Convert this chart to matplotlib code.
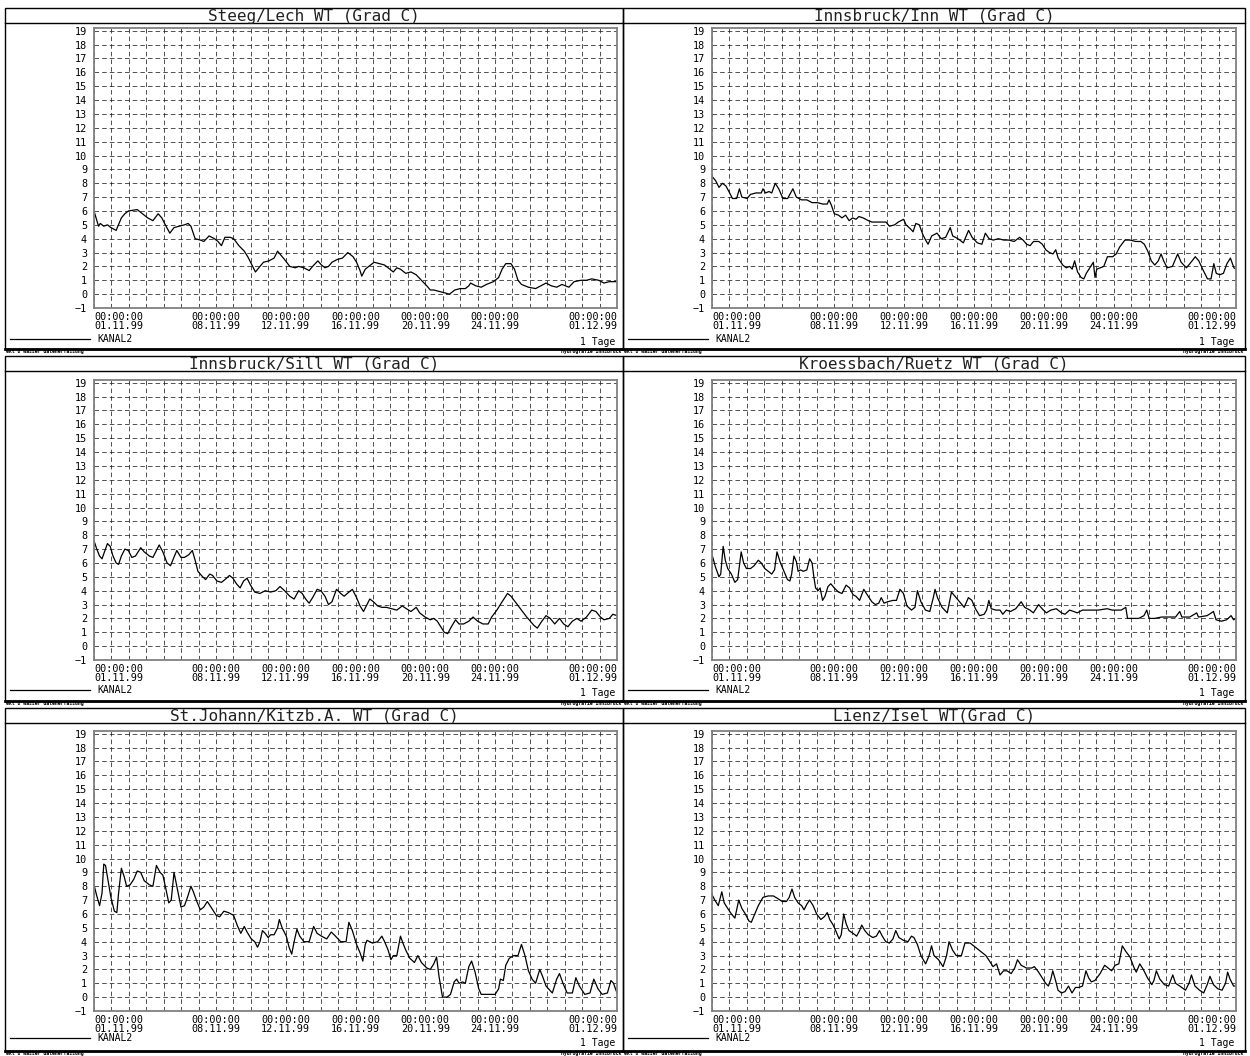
import matplotlib.pyplot as plt
from matplotlib.patches import Rectangle
from matplotlib.lines import Line2D

plt.rcParams['font.family'] = ['DejaVu Sans Mono']

# days since 01.11.99 00:00 and water temperature (Grad C)
steeg_days = [0, 0.26, 0.36, 0.56, 0.77, 0.97, 1.27, 1.57, 1.77, 1.97, 2.48, 2.78, 3.08, 3.38, 3.68,
              3.89, 4.09, 4.35, 4.59, 4.89, 5.19, 5.40, 5.56, 5.80, 6.10, 6.30, 6.60, 6.91, 7.11, 7.31,
              7.51, 7.81, 8.01, 8.31, 8.62, 8.82, 9.02, 9.26, 9.52, 9.72, 10.03, 10.33, 10.53, 10.73,
              10.93, 11.23, 11.54, 11.74, 12.04, 12.34, 12.54, 12.84, 13.05, 13.25, 13.45, 13.65, 13.95,
              14.25, 14.56, 14.86, 15.06, 15.26, 15.36, 15.56, 15.76, 16.07, 16.37, 16.67, 16.97, 17.17,
              17.37, 17.58, 17.88, 18.18, 18.48, 18.78, 19.09, 19.29, 19.49, 19.79, 20.09, 20.39, 20.70,
              21.00, 21.30, 21.50, 21.60, 21.90, 22.21, 22.51, 22.91, 23.21, 23.41, 23.62, 23.92, 24.12,
              24.32, 24.52, 24.92, 25.33, 25.63, 25.93, 26.23, 26.54, 26.84, 27.24, 27.54, 27.94, 28.25,
              28.55, 28.95, 29.25, 29.56, 30.0]
steeg_temp = [6.0, 4.9, 5.1, 4.9, 5.0, 4.8, 4.6, 5.5, 5.8, 6.0, 6.1, 5.8, 5.5, 5.3, 5.8,
              5.5, 5.0, 4.4, 4.8, 4.9, 5.0, 5.1, 4.9, 4.0, 3.9, 3.8, 4.2, 4.0, 3.8, 3.5,
              4.1, 4.1, 4.0, 3.5, 3.1, 2.7, 2.2, 1.6, 2.0, 2.3, 2.4, 2.6, 3.1, 2.8,
              2.5, 2.0, 1.9, 2.0, 1.9, 1.7, 2.0, 2.4, 2.1, 1.9, 2.0, 2.3, 2.5,
              2.6, 3.0, 2.7, 2.3, 1.7, 1.3, 1.8, 2.0, 2.3, 2.2, 2.1, 1.8, 1.6,
              1.9, 1.8, 1.5, 1.6, 1.4, 1.0, 0.6, 0.3, 0.3, 0.2, 0.1, 0.0, 0.3,
              0.4, 0.4, 0.6, 0.8, 0.6, 0.5, 0.7, 0.9, 1.2, 1.8, 2.2, 2.2, 1.8,
              1.0, 0.7, 0.5, 0.4, 0.6, 0.8, 0.6, 0.5, 0.7, 0.5, 0.9, 1.0, 1.0,
              1.1, 1.0, 0.8, 0.9, 0.9]

inn_days = [0, 0.20, 0.40, 0.60, 0.80, 1.01, 1.17, 1.41, 1.57, 1.71, 2.01, 2.21, 2.52, 2.82, 2.92,
            3.06, 3.26, 3.42, 3.62, 3.82, 4.06, 4.33, 4.63, 4.83, 5.13, 5.43, 5.73, 6.04, 6.34, 6.60,
            6.70, 6.84, 7.00, 7.24, 7.44, 7.65, 7.85, 8.05, 8.25, 8.41, 8.65, 8.95, 9.15, 9.66, 9.96,
            10.16, 10.46, 10.66, 10.97, 11.11, 11.37, 11.51, 11.67, 11.87, 12.07, 12.23, 12.37, 12.58,
            12.88, 13.12, 13.38, 13.64, 13.78, 14.08, 14.39, 14.69, 14.89, 15.19, 15.45, 15.65, 15.86,
            16.10, 16.40, 16.70, 17.00, 17.30, 17.61, 17.81, 18.01, 18.21, 18.41, 18.71, 18.91, 19.11,
            19.32, 19.52, 19.68, 19.82, 20.08, 20.28, 20.48, 20.62, 20.76, 20.93, 21.13, 21.29, 21.43,
            21.63, 21.83, 21.93, 22.03, 22.23, 22.43, 22.64, 22.94, 23.14, 23.34, 23.64, 23.94, 24.25,
            24.55, 24.75, 24.95, 25.15, 25.35, 25.55, 25.71, 25.86, 26.06, 26.36, 26.66, 26.86, 27.16,
            27.36, 27.67, 27.87, 28.13, 28.37, 28.57, 28.73, 28.87, 29.07, 29.28, 29.48, 29.68, 29.88,
            30.0]
inn_temp = [8.5, 8.2, 7.7, 8.0, 7.8, 7.3, 6.9, 6.9, 7.6, 7.0, 6.9, 7.2, 7.3, 7.3, 7.6,
            7.3, 7.4, 7.3, 8.0, 7.6, 6.9, 6.9, 7.6, 7.0, 6.8, 6.8, 6.6, 6.6, 6.5, 6.5,
            6.8, 6.4, 5.8, 5.7, 5.5, 5.7, 5.3, 5.5, 5.4, 5.6, 5.5, 5.3, 5.2, 5.2, 5.2,
            4.9, 5.0, 5.2, 5.4, 5.0, 4.7, 4.5, 5.1, 5.0, 4.3, 3.9, 3.6, 4.2,
            4.4, 4.0, 4.1, 4.8, 4.2, 4.0, 3.7, 4.6, 4.1, 3.7, 3.6, 4.4, 4.0,
            3.9, 4.0, 3.9, 3.9, 3.8, 4.1, 3.9, 3.6, 3.5, 3.8, 3.8, 3.6, 3.2,
            3.0, 2.9, 3.2, 2.6, 2.1, 1.9, 2.0, 1.8, 2.4, 1.6, 1.2, 1.1, 1.5,
            1.9, 2.3, 1.2, 1.8, 1.9, 2.0, 2.7, 2.7, 2.9, 3.4, 3.9, 3.9, 3.8,
            3.8, 3.6, 3.1, 2.4, 2.1, 2.4, 2.9, 2.4, 1.9, 2.0, 2.9, 2.3, 1.9,
            2.2, 2.7, 2.4, 1.7, 1.1, 1.1, 2.2, 1.5, 1.4, 1.5, 2.2, 2.6, 1.9,
            1.8]

sill_days = [0, 0.16, 0.32, 0.46, 0.60, 0.77, 0.93, 1.09, 1.27, 1.41, 1.57, 1.77, 1.97, 2.17, 2.38,
             2.68, 2.88, 3.18, 3.38, 3.54, 3.74, 3.95, 4.19, 4.39, 4.55, 4.75, 4.99, 5.19, 5.44, 5.64,
             5.80, 5.96, 6.16, 6.40, 6.64, 6.80, 7.05, 7.31, 7.51, 7.77, 7.97, 8.17, 8.38, 8.58, 8.78,
             8.98, 9.22, 9.52, 9.82, 10.13, 10.43, 10.67, 10.93, 11.23, 11.48, 11.74, 11.94, 12.14,
             12.34, 12.54, 12.80, 13.01, 13.25, 13.45, 13.65, 13.91, 14.15, 14.35, 14.62, 14.82, 15.06,
             15.26, 15.46, 15.62, 15.82, 16.03, 16.27, 16.51, 16.77, 17.07, 17.37, 17.68, 17.92, 18.18,
             18.48, 18.68, 18.99, 19.29, 19.49, 19.69, 19.89, 20.09, 20.29, 20.50, 20.74, 20.94, 21.20,
             21.50, 21.74, 22.01, 22.31, 22.61, 22.81, 23.11, 23.41, 23.72, 23.92, 24.22, 24.52, 24.82,
             25.03, 25.23, 25.43, 25.69, 25.93, 26.17, 26.43, 26.70, 26.94, 27.18, 27.44, 27.70, 27.94,
             28.25, 28.55, 28.79, 29.05, 29.25, 29.56, 29.76, 30.0]
sill_temp = [7.6, 7.0, 6.5, 6.3, 6.8, 7.4, 7.2, 6.5, 6.0, 5.9, 6.5, 7.0, 6.9, 6.4, 6.5,
             7.1, 6.8, 6.5, 6.4, 6.8, 7.3, 6.8, 6.0, 5.8, 6.3, 6.9, 6.4, 6.4, 6.6, 6.9,
             6.2, 5.4, 5.1, 4.8, 5.2, 5.1, 4.7, 4.6, 4.8, 5.1, 4.9, 4.5, 4.2, 4.7, 4.9,
             4.4, 3.9, 3.8, 4.0, 3.9, 4.0, 4.3, 4.0, 3.6, 3.4, 4.0, 3.8, 3.4,
             3.1, 3.5, 4.1, 4.0, 3.6, 3.0, 3.2, 4.1, 3.8, 3.6, 3.9, 4.1, 3.5,
             2.9, 2.5, 2.9, 3.4, 3.2, 2.9, 2.8, 2.8, 2.7, 2.6, 2.9, 2.7, 2.5,
             2.8, 2.4, 2.1, 1.9, 2.0, 1.8, 1.4, 1.0, 0.9, 1.4, 1.9, 1.6, 1.6,
             1.8, 2.1, 1.8, 1.6, 1.6, 2.1, 2.6, 3.2, 3.8, 3.6, 3.1, 2.6, 2.1,
             1.8, 1.5, 1.3, 1.8, 2.2, 2.0, 1.6, 2.0, 1.6, 1.4, 1.8, 2.0, 1.8,
             2.1, 2.6, 2.5, 2.1, 1.9, 2.0, 2.3, 2.2]

ruetz_days = [0, 0.20, 0.40, 0.50, 0.64, 0.76, 0.90, 1.11, 1.31, 1.47, 1.67, 1.81, 1.97, 2.21, 2.41,
              2.65, 2.82, 3.02, 3.22, 3.42, 3.58, 3.72, 3.92, 4.12, 4.32, 4.46, 4.56, 4.69, 4.83, 4.93,
              5.07, 5.23, 5.43, 5.59, 5.73, 5.83, 5.93, 6.07, 6.19, 6.33, 6.47, 6.64, 6.80, 7.00, 7.24,
              7.44, 7.68, 7.88, 8.08, 8.24, 8.45, 8.69, 8.89, 9.15, 9.35, 9.55, 9.69, 9.85, 10.05, 10.36,
              10.56, 10.76, 10.96, 11.16, 11.42, 11.62, 11.76, 11.96, 12.22, 12.47, 12.67, 12.77, 12.91,
              13.17, 13.47, 13.71, 13.91, 14.18, 14.44, 14.68, 14.88, 15.08, 15.32, 15.58, 15.72, 15.85,
              15.99, 16.25, 16.49, 16.65, 16.85, 17.09, 17.39, 17.70, 17.90, 18.20, 18.40, 18.70, 18.90,
              19.14, 19.40, 19.71, 20.01, 20.21, 20.47, 20.71, 20.91, 21.21, 21.62, 22.12, 22.62, 22.92,
              23.43, 23.69, 23.79, 24.13, 24.43, 24.73, 24.89, 25.03, 25.34, 25.74, 26.14, 26.54, 26.78,
              26.90, 27.35, 27.75, 27.85, 28.35, 28.71, 28.86, 29.16, 29.46, 29.72, 29.86, 30.0]
ruetz_temp = [6.6, 5.7, 5.0, 5.2, 7.2, 6.2, 5.6, 5.2, 4.6, 4.8, 6.8, 6.0, 5.6, 5.6, 5.8,
              6.2, 6.0, 5.6, 5.4, 5.2, 5.5, 6.8, 6.0, 5.4, 4.8, 4.7, 5.2, 6.5, 6.1, 5.4,
              5.5, 5.4, 5.5, 6.3, 6.0, 5.0, 4.2, 4.0, 4.2, 3.3, 3.6, 4.3, 4.5, 4.2, 3.9,
              3.8, 4.4, 4.2, 3.7, 3.6, 3.3, 4.1, 3.7, 3.2, 3.0, 3.1, 3.5, 3.1, 3.2, 3.3,
              3.3, 4.1, 3.8, 2.9, 2.6, 2.8, 4.0, 3.2, 2.6, 2.5, 3.5, 4.1, 3.5,
              2.8, 2.4, 3.9, 3.6, 3.2, 2.8, 3.5, 3.3, 2.7, 2.2, 2.3, 2.6, 3.3,
              2.7, 2.6, 2.6, 2.3, 2.6, 2.5, 2.7, 3.2, 2.8, 2.6, 2.4, 3.0, 2.7,
              2.4, 2.6, 2.7, 2.4, 2.3, 2.6, 2.5, 2.4, 2.6, 2.6, 2.6, 2.7, 2.6,
              2.6, 2.8, 2.0, 2.0, 2.0, 2.2, 2.6, 2.0, 2.0, 2.1, 2.1, 2.1, 2.5,
              2.1, 2.1, 2.4, 2.1, 2.2, 2.5, 1.9, 1.8, 1.9, 2.2, 1.9, 2.0]

johann_days = [0, 0.16, 0.32, 0.46, 0.56, 0.66, 0.81, 0.97, 1.17, 1.31, 1.41, 1.57, 1.73, 1.87, 2.07,
               2.28, 2.48, 2.68, 2.88, 3.18, 3.38, 3.58, 3.79, 3.95, 4.09, 4.29, 4.43, 4.59, 4.75, 4.99,
               5.19, 5.36, 5.56, 5.70, 5.90, 6.10, 6.30, 6.50, 6.76, 7.01, 7.21, 7.45, 7.71, 8.01, 8.21,
               8.42, 8.62, 8.78, 9.02, 9.22, 9.38, 9.52, 9.66, 9.82, 9.99, 10.13, 10.33, 10.53, 10.63,
               10.79, 11.03, 11.19, 11.34, 11.48, 11.64, 11.80, 12.04, 12.34, 12.60, 12.80, 13.05, 13.35,
               13.61, 13.85, 14.15, 14.46, 14.62, 14.82, 15.06, 15.26, 15.42, 15.56, 15.66, 15.97, 16.27,
               16.51, 16.67, 16.87, 17.03, 17.17, 17.37, 17.58, 17.72, 17.88, 18.12, 18.38, 18.58, 18.78,
               19.09, 19.29, 19.49, 19.65, 19.79, 19.99, 20.25, 20.45, 20.66, 20.80, 20.94, 21.14, 21.30,
               21.50, 21.66, 21.86, 22.07, 22.21, 22.71, 23.01, 23.21, 23.31, 23.48, 23.62, 23.82, 24.08,
               24.32, 24.52, 24.72, 24.92, 25.13, 25.33, 25.57, 25.73, 25.93, 26.29, 26.54, 26.70, 26.90,
               27.14, 27.44, 27.64, 27.84, 28.15, 28.45, 28.67, 28.91, 29.15, 29.45, 29.65, 29.80, 30.0]
johann_temp = [8.1, 7.3, 6.6, 7.5, 9.6, 9.5, 8.4, 7.2, 6.2, 6.1, 7.5, 9.3, 8.7, 8.0, 8.1,
               8.5, 9.1, 9.0, 8.4, 8.1, 8.0, 9.5, 9.0, 8.8, 8.0, 6.8, 7.0, 9.0, 8.0, 6.5,
               6.6, 7.2, 8.0, 7.6, 6.9, 6.3, 6.5, 6.9, 6.4, 5.9, 5.8, 6.2, 6.1, 5.9, 5.2,
               4.6, 5.1, 4.7, 4.2, 4.0, 3.6, 4.0, 4.8, 4.6, 4.3, 4.5, 4.5, 5.0, 5.6,
               5.0, 4.4, 3.6, 3.1, 4.0, 4.9, 4.4, 4.0, 4.0, 5.1, 4.6, 4.4, 4.2,
               4.7, 4.4, 4.0, 4.0, 5.4, 4.8, 3.8, 3.2, 2.6, 3.8, 4.1, 3.9, 4.0,
               4.4, 4.0, 3.4, 2.7, 3.0, 3.0, 4.4, 3.9, 3.4, 2.8, 2.5, 3.0, 2.5,
               2.1, 2.0, 2.4, 2.9, 1.5, 0.0, 0.0, 0.2, 1.1, 1.3, 1.0, 1.1, 1.0,
               2.2, 2.6, 1.8, 0.6, 0.2, 0.2, 0.2, 0.6, 1.3, 1.2, 2.3, 2.8, 3.0,
               3.0, 3.8, 3.0, 1.9, 1.3, 1.0, 2.0, 1.5, 0.8, 0.3, 1.3, 1.7, 1.0,
               0.3, 0.3, 1.4, 0.8, 0.2, 0.3, 1.3, 0.6, 0.2, 0.3, 1.2, 1.0, 0.3]

isel_days = [0, 0.16, 0.36, 0.56, 0.70, 0.90, 1.11, 1.31, 1.41, 1.53, 1.71, 1.91, 2.11, 2.25, 2.45,
             2.65, 2.92, 3.22, 3.52, 3.78, 4.02, 4.26, 4.42, 4.58, 4.73, 4.93, 5.13, 5.27, 5.43, 5.59,
             5.79, 5.99, 6.23, 6.43, 6.60, 6.74, 6.94, 7.08, 7.28, 7.40, 7.54, 7.68, 7.84, 8.08, 8.28,
             8.45, 8.57, 8.75, 8.95, 9.21, 9.41, 9.59, 9.75, 9.95, 10.15, 10.36, 10.52, 10.70, 10.96,
             11.22, 11.42, 11.56, 11.76, 11.96, 12.23, 12.43, 12.57, 12.71, 12.97, 13.23, 13.43, 13.57,
             13.77, 13.98, 14.28, 14.48, 14.78, 15.08, 15.38, 15.68, 15.89, 16.09, 16.29, 16.49, 16.69,
             16.89, 17.13, 17.33, 17.49, 17.70, 18.00, 18.30, 18.46, 18.70, 18.90, 19.10, 19.26, 19.40,
             19.51, 19.67, 19.81, 20.01, 20.21, 20.41, 20.61, 20.81, 21.01, 21.21, 21.41, 21.56, 21.72,
             21.92, 22.22, 22.48, 22.68, 22.88, 23.08, 23.29, 23.49, 23.69, 23.93, 24.17, 24.29, 24.49,
             24.69, 24.93, 25.18, 25.30, 25.44, 25.64, 25.90, 26.14, 26.38, 26.54, 26.78, 27.11, 27.31,
             27.45, 27.65, 27.91, 28.15, 28.35, 28.51, 28.71, 28.96, 29.20, 29.40, 29.52, 29.66, 29.86,
             30.0]
isel_temp = [7.4, 7.0, 6.6, 7.6, 6.8, 6.4, 6.0, 5.7, 6.3, 7.0, 6.4, 6.0, 5.5, 5.4, 6.0,
             6.6, 7.2, 7.3, 7.3, 7.1, 6.9, 6.9, 7.2, 7.8, 7.2, 6.8, 6.6, 6.3, 6.7, 7.0,
             6.6, 6.0, 5.6, 5.8, 6.1, 5.6, 5.2, 4.8, 4.2, 4.5, 6.0, 5.3, 4.8, 4.6, 4.4,
             4.8, 5.2, 4.8, 4.5, 4.3, 4.4, 4.8, 4.4, 4.0, 3.9, 4.2, 4.8, 4.3, 4.1,
             4.0, 4.4, 4.3, 3.8, 3.0, 2.4, 3.0, 3.7, 3.0, 2.7, 2.2, 3.0, 4.0,
             3.4, 3.0, 3.0, 3.9, 3.9, 3.6, 3.3, 3.0, 2.6, 2.2, 2.4, 1.6, 1.9,
             1.9, 1.7, 2.1, 2.7, 2.3, 2.1, 2.1, 2.2, 1.8, 1.4, 1.0, 0.8, 1.3,
             1.9, 1.2, 0.5, 0.3, 0.4, 0.8, 0.3, 0.7, 0.7, 0.8, 1.9, 1.4, 1.1,
             1.2, 1.7, 2.3, 2.1, 1.9, 2.3, 2.4, 3.7, 3.3, 2.9, 2.1, 1.8, 2.4,
             2.0, 1.4, 0.9, 1.2, 1.9, 1.3, 0.9, 0.8, 1.6, 1.0, 0.8, 0.5, 1.0,
             1.6, 0.8, 0.5, 0.3, 0.9, 1.5, 0.9, 0.6, 0.5, 1.0, 1.8, 1.3, 0.8,
             0.8]

titles = ["Steeg/Lech WT (Grad C)", "Innsbruck/Inn WT (Grad C)",
          "Innsbruck/Sill WT (Grad C)", "Kroessbach/Ruetz WT (Grad C)",
          "St.Johann/Kitzb.A. WT (Grad C)", "Lienz/Isel WT(Grad C)"]
series = [(steeg_days, steeg_temp), (inn_days, inn_temp),
          (sill_days, sill_temp), (ruetz_days, ruetz_temp),
          (johann_days, johann_temp), (isel_days, isel_temp)]

tick_days = [0, 7, 11, 15, 19, 23, 30]
tick_dates = ["01.11.99", "08.11.99", "12.11.99", "16.11.99", "20.11.99", "24.11.99", "01.12.99"]

W, H = 1250, 1056
fig = plt.figure(figsize=(W / 100, H / 100), dpi=100)


def fx(px):
    return px / W


def fy(py):
    return 1 - py / H


col_box = [(5, 623), (623, 1245)]
col_axes = [(94, 617), (712, 1236)]
row_top = [8, 356, 708]
axes_top = [28, 380, 731]
legend_y = [339, 690, 1038]
tage_y = [342, 693, 1043]
foot_y = [349, 701, 1051]
ax_h = 280

for i, (title, (days, temp)) in enumerate(zip(titles, series)):
    r, c = divmod(i, 2)
    x0, x1 = col_box[c]
    a0, a1 = col_axes[c]

    # panel frame + title bar
    fig.add_artist(Rectangle((fx(x0), fy(foot_y[r])), (x1 - x0) / W, (foot_y[r] - row_top[r]) / H,
                             transform=fig.transFigure, fill=False, ec='black', lw=1.0))
    fig.add_artist(Line2D([fx(x0), fx(x1)], [fy(row_top[r] + 15)] * 2, color='black', lw=1.0))
    fig.add_artist(Line2D([fx(x0), fx(x1)], [fy(foot_y[r])] * 2, color='black', lw=2.0))
    fig.text(fx((x0 + x1) / 2), fy(row_top[r] + 8), title, ha='center', va='center',
             fontsize=11.5, color='#222222')

    ax = fig.add_axes([fx(a0), fy(axes_top[r] + ax_h), (a1 - a0) / W, ax_h / H])
    ax.plot(days, temp, color='black', lw=0.9)
    ax.set_xlim(0, 30)
    ax.set_ylim(-1, 19.2)

    labels = [""] * 31
    for d, s in zip(tick_days, tick_dates):
        labels[d] = "00:00:00\n" + s
    ax.set_xticks(range(31))
    ax.set_xticklabels(labels, fontsize=7.3, linespacing=0.85)
    xl = ax.get_xticklabels()
    xl[0].set_ha('left')
    xl[30].set_ha('right')
    ax.set_yticks(range(-1, 20))
    ax.set_yticklabels([str(v).replace('-', '\u2212') for v in range(-1, 20)], fontsize=7.3)
    ax.tick_params(axis='y', length=0, pad=5)
    ax.tick_params(axis='x', length=0, pad=3)
    ax.grid(True, color='#222222', lw=0.55, ls=(0, (6, 4)))
    for sp in ax.spines.values():
        sp.set_color('#808080')
        sp.set_linewidth(1.3)

    # legend and time step
    fig.add_artist(Line2D([fx(x0 + 5), fx(x0 + 85)], [fy(legend_y[r])] * 2, color='black', lw=0.9))
    fig.text(fx(a0 + 3), fy(legend_y[r]), "KANAL2", ha='left', va='center', fontsize=7)
    fig.text(fx(a1 - 2), fy(tage_y[r]), "1 Tage", ha='right', va='center', fontsize=7)

    # footer strip
    fig.text(fx(x0 + 1), fy(foot_y[r] + 3), "ekt 8 wasser datenerfassung", ha='left', va='center',
             fontsize=3.5, fontweight='bold')
    fig.text(fx(x1 - 2), fy(foot_y[r] + 3), "Hydrografie Innsbruck", ha='right', va='center',
             fontsize=3.5, fontweight='bold')

fig.savefig("out.png", dpi=100)
